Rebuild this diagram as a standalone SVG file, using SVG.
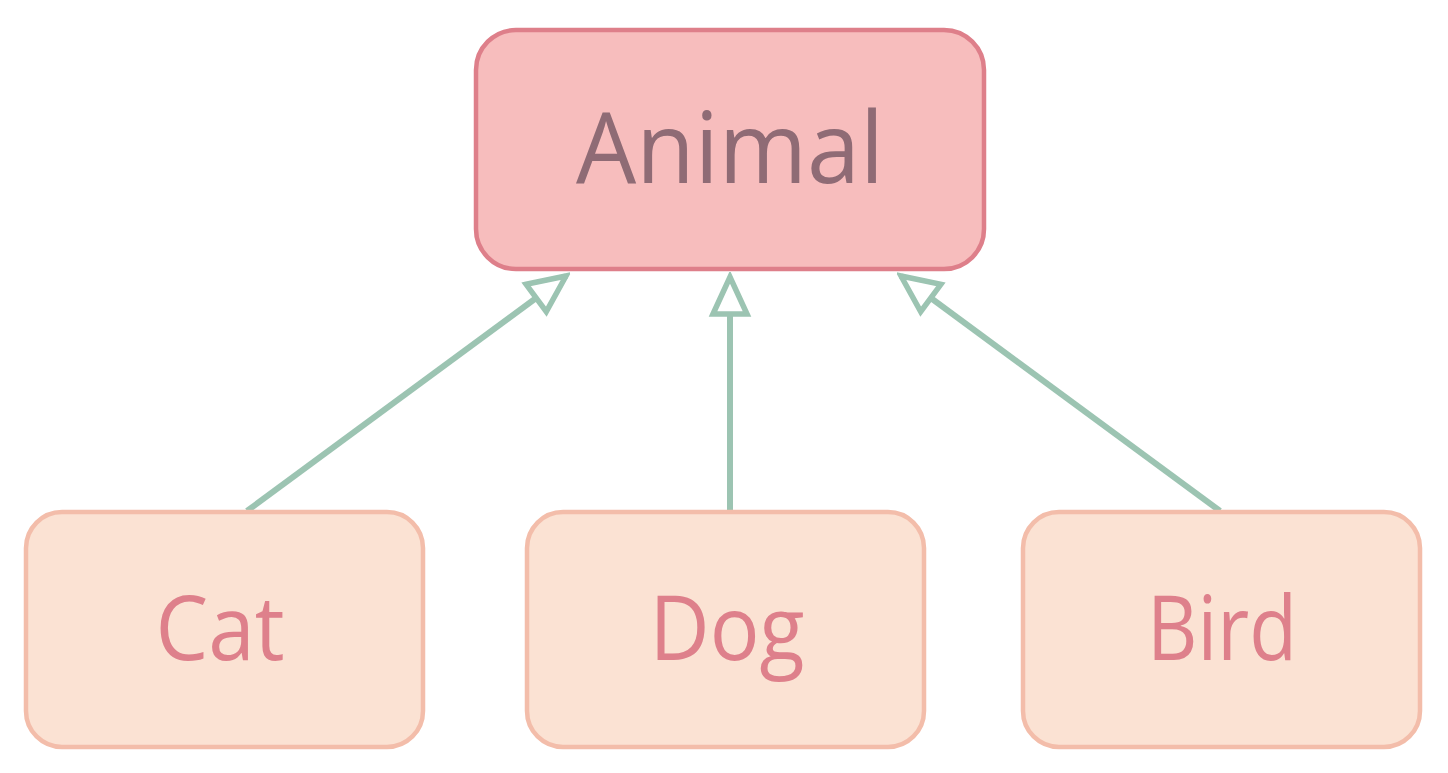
<svg xmlns="http://www.w3.org/2000/svg" width="1448" height="773" viewBox="0 0 1448 773">
<style>
.parent rect{fill:#F7BDBD;stroke:#DE7F8A;stroke-width:4.5}
.parent text{fill:#8F6B75;font-family:"Open Sans","Noto Sans",sans-serif;font-size:98px;font-weight:500;text-anchor:middle}
.child rect{fill:#FBE2D3;stroke:#F3BDAA;stroke-width:4.5}
.child text{fill:#DE808B;font-family:"Open Sans","Noto Sans",sans-serif;font-size:90px;font-weight:500;text-anchor:middle}
.edge{stroke:#9CC4B2;stroke-width:6;fill:none;marker-end:url(#tri)}
</style>
<defs>
<marker id="tri" markerUnits="userSpaceOnUse" viewBox="-50 -25 55 50" refX="0" refY="0" markerWidth="55" markerHeight="50" orient="auto">
<path d="M-37,-17 L0,0 L-37,17 Z" fill="#FFFFFF" stroke="#9CC4B2" stroke-width="5.5"/>
</marker>
</defs>
<rect width="1448" height="773" fill="#FFFFFF"/>
<g id="connectors">
<line class="edge" x1="247" y1="511" x2="566" y2="276"/>
<line class="edge" x1="730" y1="511" x2="730" y2="277"/>
<line class="edge" x1="1220" y1="511" x2="901" y2="276"/>
</g>
<g id="animal" class="parent">
<rect x="476" y="30" width="508" height="239" rx="40"/>
<text x="730" y="183" textLength="308" lengthAdjust="spacingAndGlyphs">Animal</text>
</g>
<g id="cat" class="child">
<rect x="26" y="512" width="397" height="235" rx="36"/>
<text x="220" y="660" textLength="129" lengthAdjust="spacingAndGlyphs">Cat</text>
</g>
<g id="dog" class="child">
<rect x="527" y="512" width="397" height="235" rx="36"/>
<text x="727" y="660" textLength="155" lengthAdjust="spacingAndGlyphs">Dog</text>
</g>
<g id="bird" class="child">
<rect x="1023" y="512" width="397" height="235" rx="36"/>
<text x="1222" y="660" textLength="150" lengthAdjust="spacingAndGlyphs">Bird</text>
</g>
</svg>
